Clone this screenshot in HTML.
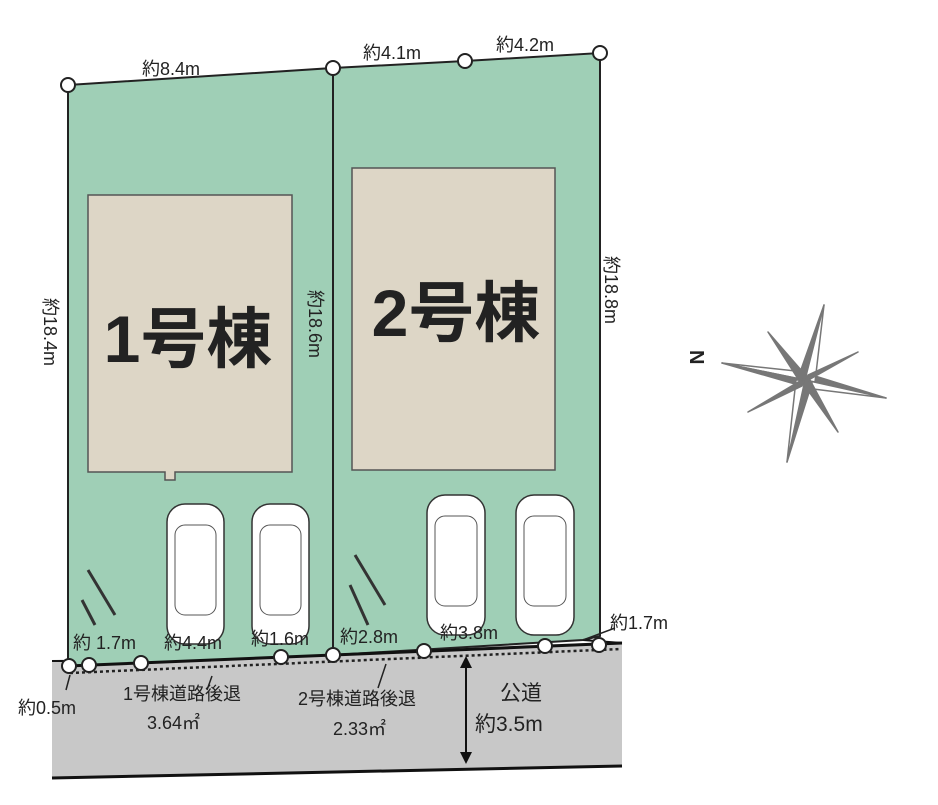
<!DOCTYPE html>
<html><head><meta charset="utf-8"><style>
body{margin:0;background:#fff;width:938px;height:800px;overflow:hidden}
text{font-family:"Liberation Sans","Noto Sans CJK JP",sans-serif;fill:#222}
</style></head><body>
<svg width="938" height="800" viewBox="0 0 938 800">
<polygon points="52,660 622,642 622,766 52,778" fill="#c8c8c8"/>
<line x1="52" y1="778" x2="622" y2="766" stroke="#111" stroke-width="3"/>
<line x1="52" y1="661" x2="70" y2="661" stroke="#111" stroke-width="2"/>
<polygon points="68,85 333,68 333,655 68,666" fill="#9fcfb6" stroke="#222" stroke-width="2"/>
<polygon points="333,68 465,61 600,53 600,636 583,640 333,655" fill="#9fcfb6" stroke="#222" stroke-width="2"/>
<line x1="583" y1="640" x2="622" y2="643" stroke="#111" stroke-width="2"/>
<line x1="68" y1="666" x2="622" y2="643" stroke="#111" stroke-width="3"/>
<line x1="70" y1="673" x2="620" y2="649" stroke="#222" stroke-width="2.5" stroke-dasharray="3,3"/>
<polygon points="88,195 292,195 292,472 175,472 175,480 165,480 165,472 88,472" fill="#ddd6c6" stroke="#555" stroke-width="1.5"/>
<rect x="352" y="168" width="203" height="302" fill="#ddd6c6" stroke="#555" stroke-width="1.5"/>
<text x="188" y="362" font-size="66" font-weight="bold" text-anchor="middle" fill="#111">1号棟</text>
<text x="456" y="336" font-size="66" font-weight="bold" text-anchor="middle" fill="#111">2号棟</text>
<g fill="#fff" stroke="#333" stroke-width="1.5">
<rect x="167" y="504" width="57" height="140" rx="18"/>
<rect x="252" y="504" width="57" height="140" rx="18"/>
<rect x="427" y="495" width="58" height="140" rx="18"/>
<rect x="516" y="495" width="58" height="140" rx="18"/>
</g>
<g fill="none" stroke="#555" stroke-width="1">
<rect x="175" y="525" width="41" height="90" rx="10"/>
<rect x="260" y="525" width="41" height="90" rx="10"/>
<rect x="435" y="516" width="42" height="90" rx="10"/>
<rect x="524" y="516" width="42" height="90" rx="10"/>
</g>
<g stroke="#333" stroke-width="3">
<line x1="88" y1="570" x2="115" y2="615"/><line x1="82" y1="600" x2="95" y2="625"/>
<line x1="355" y1="555" x2="385" y2="605"/><line x1="350" y1="585" x2="368" y2="625"/>
</g>
<g stroke="#777" stroke-width="1.5" stroke-linejoin="round">
<polygon points="722,363 805,372 805,380" fill="#fff"/>
<polygon points="722,363 805,380 795,384" fill="#777"/>
<polygon points="886,398 805,380 815,376" fill="#777"/>
<polygon points="886,398 805,380 805,388" fill="#fff"/>
<polygon points="824,305 805,380 798,378" fill="#777"/>
<polygon points="824,305 805,380 815,382" fill="#fff"/>
<polygon points="787,462 805,380 812,383" fill="#777"/>
<polygon points="787,462 805,380 796,380" fill="#fff"/>
<polygon points="768,332 808,378 800,382" fill="#777"/>
<polygon points="838,432 802,382 810,380" fill="#777"/>
<polygon points="858,352 805,382 808,375" fill="#777"/>
<polygon points="748,412 805,378 802,386" fill="#777"/>
</g>
<text x="688" y="372" font-size="20" font-weight="bold" fill="#666" transform="rotate(90 700 362)">N</text>
<g fill="#fff" stroke="#222" stroke-width="2">
<circle cx="68" cy="85" r="7"/><circle cx="333" cy="68" r="7"/><circle cx="465" cy="61" r="7"/><circle cx="600" cy="53" r="7"/>
<circle cx="69" cy="666" r="7"/><circle cx="89" cy="665" r="7"/><circle cx="141" cy="663" r="7"/><circle cx="281" cy="657" r="7"/>
<circle cx="333" cy="655" r="7"/><circle cx="424" cy="651" r="7"/><circle cx="545" cy="646" r="7"/><circle cx="599" cy="645" r="7"/>
</g>
<g font-size="18">
<text x="142" y="75">約8.4m</text>
<text x="363" y="59">約4.1m</text>
<text x="496" y="51">約4.2m</text>
<text x="73" y="649">約 1.7m</text>
<text x="164" y="649">約4.4m</text>
<text x="251" y="645">約1.6m</text>
<text x="340" y="643">約2.8m</text>
<text x="440" y="639">約3.8m</text>
<text x="610" y="629">約1.7m</text>
<text x="18" y="714">約0.5m</text>
<text x="123" y="700">1号棟道路後退</text>
<text x="147" y="729">3.64㎡</text>
<text x="298" y="705">2号棟道路後退</text>
<text x="333" y="735">2.33㎡</text>
<text x="500" y="700" font-size="21">公道</text>
<text x="475" y="731" font-size="21">約3.5m</text>
<text transform="translate(44,298) rotate(90)">約18.4m</text>
<text transform="translate(309,290) rotate(90)">約18.6m</text>
<text transform="translate(605,256) rotate(90)">約18.8m</text>
</g>
<g stroke="#222" stroke-width="1.5"><line x1="212" y1="676" x2="207" y2="690"/><line x1="386" y1="664" x2="378" y2="688"/><line x1="70" y1="675" x2="66" y2="690"/><line x1="583" y1="640" x2="615" y2="628"/></g>
<line x1="466" y1="665" x2="466" y2="762" stroke="#111" stroke-width="2"/>
<polygon points="460,668 472,668 466,656" fill="#111"/>
<polygon points="460,752 472,752 466,764" fill="#111"/>
</svg>
</body></html>
